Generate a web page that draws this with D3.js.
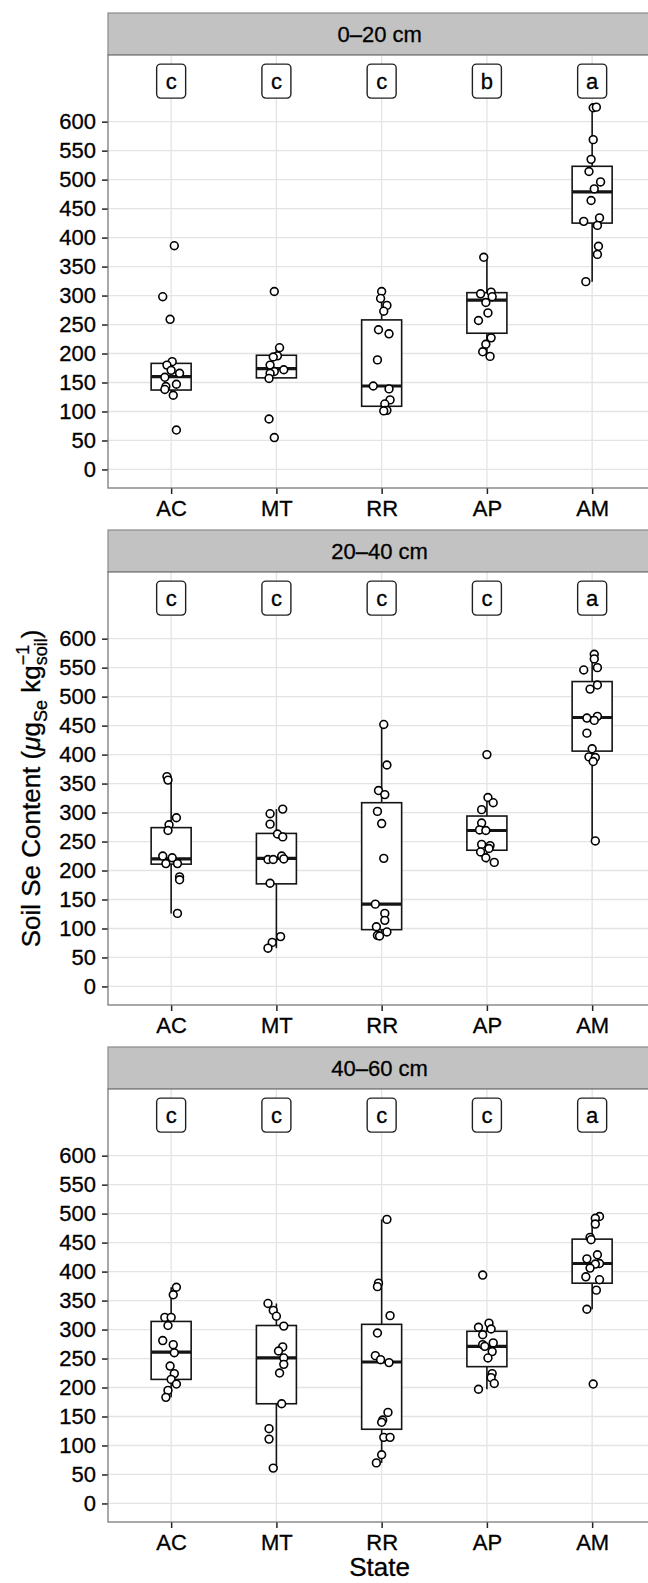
<!DOCTYPE html>
<html>
<meta charset = "utf-8" />
<title>Soil Se content by state</title>
<head>
    <script src="https://d3js.org/d3.v7.min.js"></script>
    <style>
        body { margin: 0; background: #fff; }
        text { font-family: "Liberation Sans", Arial, Helvetica, sans-serif; fill: #000;
               stroke: #000; stroke-width: 0.3px; }
    </style>
</head>
<body>
    <div id = "chart"></div>

    <script type = "text/javascript">
        // categories / facets
        var states = ["AC", "MT", "RR", "AP", "AM"];
        var depths = ["0\u201320 cm", "20\u201340 cm", "40\u201360 cm"];
        var yTicks = [0, 50, 100, 150, 200, 250, 300, 350, 400, 450, 500, 550, 600];

        // significance letters, one row per depth
        var letters0_20  = ["c", "c", "c", "b", "a"];
        var letters20_40 = ["c", "c", "c", "c", "a"];
        var letters40_60 = ["c", "c", "c", "c", "a"];

        // box stats: [lower whisker, q1, median, q3, upper whisker]
        var box0_20 = [
            [128, 137, 160, 183, 186],
            [157, 158, 174, 197, 210],
            [101, 109, 144, 258, 307],
            [195, 235, 292, 305, 366],
            [324, 425, 479, 523, 625]
        ];
        var box20_40 = [
            [126, 211, 220, 274, 362],
            [66, 177, 221, 264, 306],
            [87, 98, 142, 317, 452],
            [214, 235, 269, 294, 326],
            [251, 406, 464, 526, 573]
        ];
        var box40_60 = [
            [183, 214, 261, 314, 373],
            [61, 172, 251, 307, 345],
            [70, 128, 244, 309, 490],
            [197, 236, 271, 297, 311],
            [335, 380, 414, 456, 495]
        ];

        // individual samples (ug/kg), per state
        var vals0_20 = [
            [386, 298, 259, 186, 180, 171, 166, 159, 147, 143, 138, 128, 68],
            [307, 210, 196, 194, 180, 172, 169, 166, 157, 87, 55],
            [307, 295, 283, 273, 241, 234, 189, 144, 139, 120, 113, 102, 102, 101],
            [366, 306, 303, 298, 288, 270, 257, 227, 216, 203, 195],
            [624, 625, 569, 535, 514, 496, 484, 464, 434, 428, 421, 385, 371, 324]
        ];
        var vals20_40 = [
            [362, 356, 291, 279, 269, 225, 222, 212, 212, 189, 184, 126],
            [306, 298, 280, 263, 258, 225, 220, 219, 219, 178, 86, 76, 66],
            [452, 382, 338, 331, 302, 281, 221, 142, 126, 114, 103, 94, 88, 87],
            [400, 326, 317, 305, 282, 270, 269, 245, 243, 238, 232, 222, 214],
            [573, 565, 550, 546, 520, 513, 466, 463, 459, 437, 410, 396, 395, 388, 251]
        ];
        var vals40_60 = [
            [373, 360, 321, 321, 307, 281, 274, 260, 237, 224, 214, 206, 195, 183],
            [345, 333, 323, 306, 270, 263, 251, 240, 225, 172, 129, 111, 61],
            [490, 380, 374, 324, 294, 255, 248, 243, 157, 144, 140, 114, 114, 84, 70],
            [394, 311, 304, 301, 291, 277, 274, 271, 262, 251, 224, 217, 207, 197],
            [495, 492, 482, 459, 455, 429, 422, 414, 413, 406, 391, 386, 368, 335, 206]
        ];

        // horizontal jitter of each sample, as a fraction of the category step
        var jit0_20 = [
            [0.03, -0.08, -0.01, 0.01, -0.04, 0.00, 0.08, -0.06, 0.05, -0.05, -0.06, 0.02, 0.05],
            [-0.02, 0.03, 0.01, -0.03, -0.06, 0.07, -0.02, -0.06, -0.07, -0.07, -0.02],
            [0.00, -0.01, 0.05, 0.02, -0.03, 0.07, -0.04, -0.08, 0.07, 0.08, 0.03, 0.03, 0.05, 0.02],
            [-0.03, 0.04, -0.06, 0.05, -0.01, 0.01, -0.08, 0.04, -0.01, -0.04, 0.03],
            [0.01, 0.04, 0.01, -0.01, -0.03, 0.08, 0.02, -0.01, 0.07, -0.08, 0.05, 0.06, 0.05, -0.06]
        ];
        var jit20_40 = [
            [-0.04, -0.03, 0.05, -0.02, -0.03, -0.08, 0.01, -0.05, 0.06, 0.08, 0.08, 0.06],
            [0.06, -0.06, -0.06, 0.01, 0.06, 0.05, 0.07, -0.08, -0.03, -0.06, 0.04, -0.04, -0.08],
            [0.02, 0.05, -0.03, 0.03, -0.04, 0.00, 0.02, -0.06, 0.03, 0.03, -0.05, 0.05, -0.04, -0.02],
            [0.00, 0.01, 0.06, -0.05, -0.05, -0.07, -0.01, -0.05, 0.03, 0.02, -0.06, -0.01, 0.07],
            [0.02, 0.02, 0.05, -0.08, 0.05, -0.02, 0.05, -0.05, 0.02, -0.05, 0.00, -0.03, 0.03, 0.01, 0.03]
        ];
        var jit40_60 = [
            [0.05, 0.02, -0.06, 0.00, -0.03, -0.08, 0.02, 0.03, -0.01, 0.03, 0.00, 0.05, -0.03, -0.05],
            [-0.08, -0.03, 0.00, 0.07, 0.06, 0.02, 0.07, 0.07, 0.03, 0.05, -0.07, -0.07, -0.03],
            [0.05, -0.03, -0.04, 0.08, -0.04, -0.06, -0.01, 0.07, 0.06, 0.01, 0.00, 0.02, 0.08, 0.00, -0.05],
            [-0.04, 0.02, -0.08, 0.04, -0.04, 0.06, -0.04, -0.02, 0.05, 0.01, 0.05, 0.04, 0.07, -0.08],
            [0.07, 0.03, 0.03, -0.02, -0.01, 0.05, -0.05, 0.07, 0.03, -0.02, -0.06, 0.07, 0.04, -0.05, 0.01]
        ];

        var letterY = 670;   // data value where the letter labels sit

        var panels = [
            { strip: depths[0], letters: letters0_20, box: box0_20, vals: vals0_20, jit: jit0_20 },
            { strip: depths[1], letters: letters20_40, box: box20_40, vals: vals20_40, jit: jit20_40 },
            { strip: depths[2], letters: letters40_60, box: box40_60, vals: vals40_60, jit: jit40_60 }
        ];

        const width = 648, height = 1583,
            panelLeft = 108, panelRight = 655.3,
            panelStep = 517,
            stripTop = 13, stripH = 42,
            plotTop = 55, plotBottom = 488,
            boxW = 40, fontSize = 22,
            ink = "#151515";

        var x = d3.scalePoint()
            .domain(states)
            .range([panelLeft, panelRight])
            .padding(0.6);
        var step = x.step();

        var y = d3.scaleLinear()
            .domain([-32, 715])
            .range([plotBottom, plotTop]);

        var svg = d3.select("#chart").append("svg")
            .attr("width", width)
            .attr("height", height);

        panels.forEach(function(p, pi) {
            var g = svg.append("g")
                .attr("transform", "translate(0," + (pi * panelStep) + ")");

            // strip
            g.append("rect")
                .attr("x", panelLeft)
                .attr("y", stripTop)
                .attr("width", panelRight - panelLeft)
                .attr("height", stripH)
                .attr("fill", "#c2c2c2")
                .attr("stroke", "#8a8a8a")
                .attr("stroke-width", 1.2);
            g.append("text")
                .attr("x", (panelLeft + panelRight) / 2 - 2)
                .attr("y", stripTop + stripH / 2)
                .attr("dy", "0.36em")
                .attr("text-anchor", "middle")
                .style("font-size", fontSize + "px")
                .text(p.strip);

            // panel background + grid
            g.append("rect")
                .attr("x", panelLeft).attr("y", plotTop)
                .attr("width", panelRight - panelLeft)
                .attr("height", plotBottom - plotTop)
                .attr("fill", "#fff");

            g.selectAll(".hgrid")
                .data(yTicks)
                .enter().append("line")
                .attr("x1", panelLeft).attr("x2", panelRight)
                .attr("y1", d => y(d)).attr("y2", d => y(d))
                .attr("stroke", "#e4e4e4")
                .attr("stroke-width", 1.3);
            g.selectAll(".vgrid")
                .data(states)
                .enter().append("line")
                .attr("x1", d => x(d)).attr("x2", d => x(d))
                .attr("y1", plotTop).attr("y2", plotBottom)
                .attr("stroke", "#e4e4e4")
                .attr("stroke-width", 1.3);

            // y axis
            var yAxis = g.append("g")
                .attr("transform", "translate(" + panelLeft + ",0)")
                .call(d3.axisLeft(y).tickValues(yTicks).tickSize(6).tickPadding(6));
            yAxis.select(".domain").remove();
            yAxis.selectAll("line").attr("stroke", "#222").attr("stroke-width", 1.5);
            yAxis.selectAll("text")
                .style("font-size", fontSize + "px")
                .style("font-family", "'Liberation Sans', Arial, sans-serif")
                .attr("fill", "#000");

            // x axis
            var xAxis = g.append("g")
                .attr("transform", "translate(0," + plotBottom + ")")
                .call(d3.axisBottom(x).tickSize(6).tickPadding(6));
            xAxis.select(".domain").remove();
            xAxis.selectAll("line").attr("stroke", "#222").attr("stroke-width", 1.5);
            xAxis.selectAll("text")
                .style("font-size", fontSize + "px")
                .style("font-family", "'Liberation Sans', Arial, sans-serif")
                .attr("fill", "#000");

            // boxes
            var bx = g.selectAll(".box")
                .data(p.box)
                .enter().append("g")
                .attr("transform", (d, i) => "translate(" + x(states[i]) + ",0)");
            bx.append("line")
                .attr("x1", 0).attr("x2", 0)
                .attr("y1", d => y(d[0])).attr("y2", d => y(d[1]))
                .attr("stroke", ink).attr("stroke-width", 1.6);
            bx.append("line")
                .attr("x1", 0).attr("x2", 0)
                .attr("y1", d => y(d[3])).attr("y2", d => y(d[4]))
                .attr("stroke", ink).attr("stroke-width", 1.6);
            bx.append("rect")
                .attr("x", -boxW / 2)
                .attr("y", d => y(d[3]))
                .attr("width", boxW)
                .attr("height", d => y(d[1]) - y(d[3]))
                .attr("fill", "#fff")
                .attr("stroke", ink)
                .attr("stroke-width", 1.6);
            bx.append("line")
                .attr("x1", -boxW / 2).attr("x2", boxW / 2)
                .attr("y1", d => y(d[2])).attr("y2", d => y(d[2]))
                .attr("stroke", ink).attr("stroke-width", 3.2);

            // jittered samples
            var pts = [];
            p.vals.forEach(function(arr, si) {
                arr.forEach(function(v, k) {
                    pts.push({ s: states[si], v: v, j: p.jit[si][k] });
                });
            });
            g.selectAll(".pt")
                .data(pts)
                .enter().append("circle")
                .attr("cx", d => x(d.s) + d.j * step)
                .attr("cy", d => y(d.v))
                .attr("r", 3.9)
                .attr("fill", "#fff")
                .attr("stroke", "#000")
                .attr("stroke-width", 1.6);

            // letters
            var lab = g.selectAll(".lab")
                .data(p.letters)
                .enter().append("g")
                .attr("transform", (d, i) => "translate(" + x(states[i]) + "," + y(letterY) + ")");
            lab.append("rect")
                .attr("x", -14.5).attr("y", -17)
                .attr("width", 29).attr("height", 34)
                .attr("rx", 4).attr("ry", 4)
                .attr("fill", "#fff")
                .attr("stroke", "#222")
                .attr("stroke-width", 1.4);
            lab.append("text")
                .attr("text-anchor", "middle")
                .attr("dy", "0.36em")
                .style("font-size", fontSize + "px")
                .text(d => d);

            // panel border
            g.append("rect")
                .attr("x", panelLeft).attr("y", plotTop)
                .attr("width", panelRight - panelLeft)
                .attr("height", plotBottom - plotTop)
                .attr("fill", "none")
                .attr("stroke", "#7a7a7a")
                .attr("stroke-width", 1.3);
        });

        // x title
        svg.append("text")
            .attr("x", (panelLeft + panelRight) / 2 - 2)
            .attr("y", 1576)
            .attr("text-anchor", "middle")
            .style("font-size", "26px")
            .text("State");

        // y title with sub/superscripts
        var yt = svg.append("text")
            .attr("transform", "translate(31," + (plotTop + panelStep + (plotBottom - plotTop) / 2) + ") rotate(-90)")
            .attr("text-anchor", "middle")
            .attr("dy", "0.36em")
            .style("font-size", "26px");
        yt.append("tspan").text("Soil Se Content (");
        yt.append("tspan").style("font-style", "italic").text("\u03bc");
        yt.append("tspan").text("g");
        yt.append("tspan").attr("dy", 7).style("font-size", "18px").text("Se");
        yt.append("tspan").attr("dy", -7).text(" kg");
        var soil = yt.append("tspan").attr("dy", 7).style("font-size", "18px").text("soil");
        var sw = soil.node().getComputedTextLength();
        var sup = yt.append("tspan").attr("dy", -18).attr("dx", -sw).style("font-size", "18px").text("\u22121");
        var pw = sup.node().getComputedTextLength();
        yt.append("tspan").attr("dy", 11).attr("dx", Math.max(0, sw - pw)).text(")");
    </script>
</body>
</html>
